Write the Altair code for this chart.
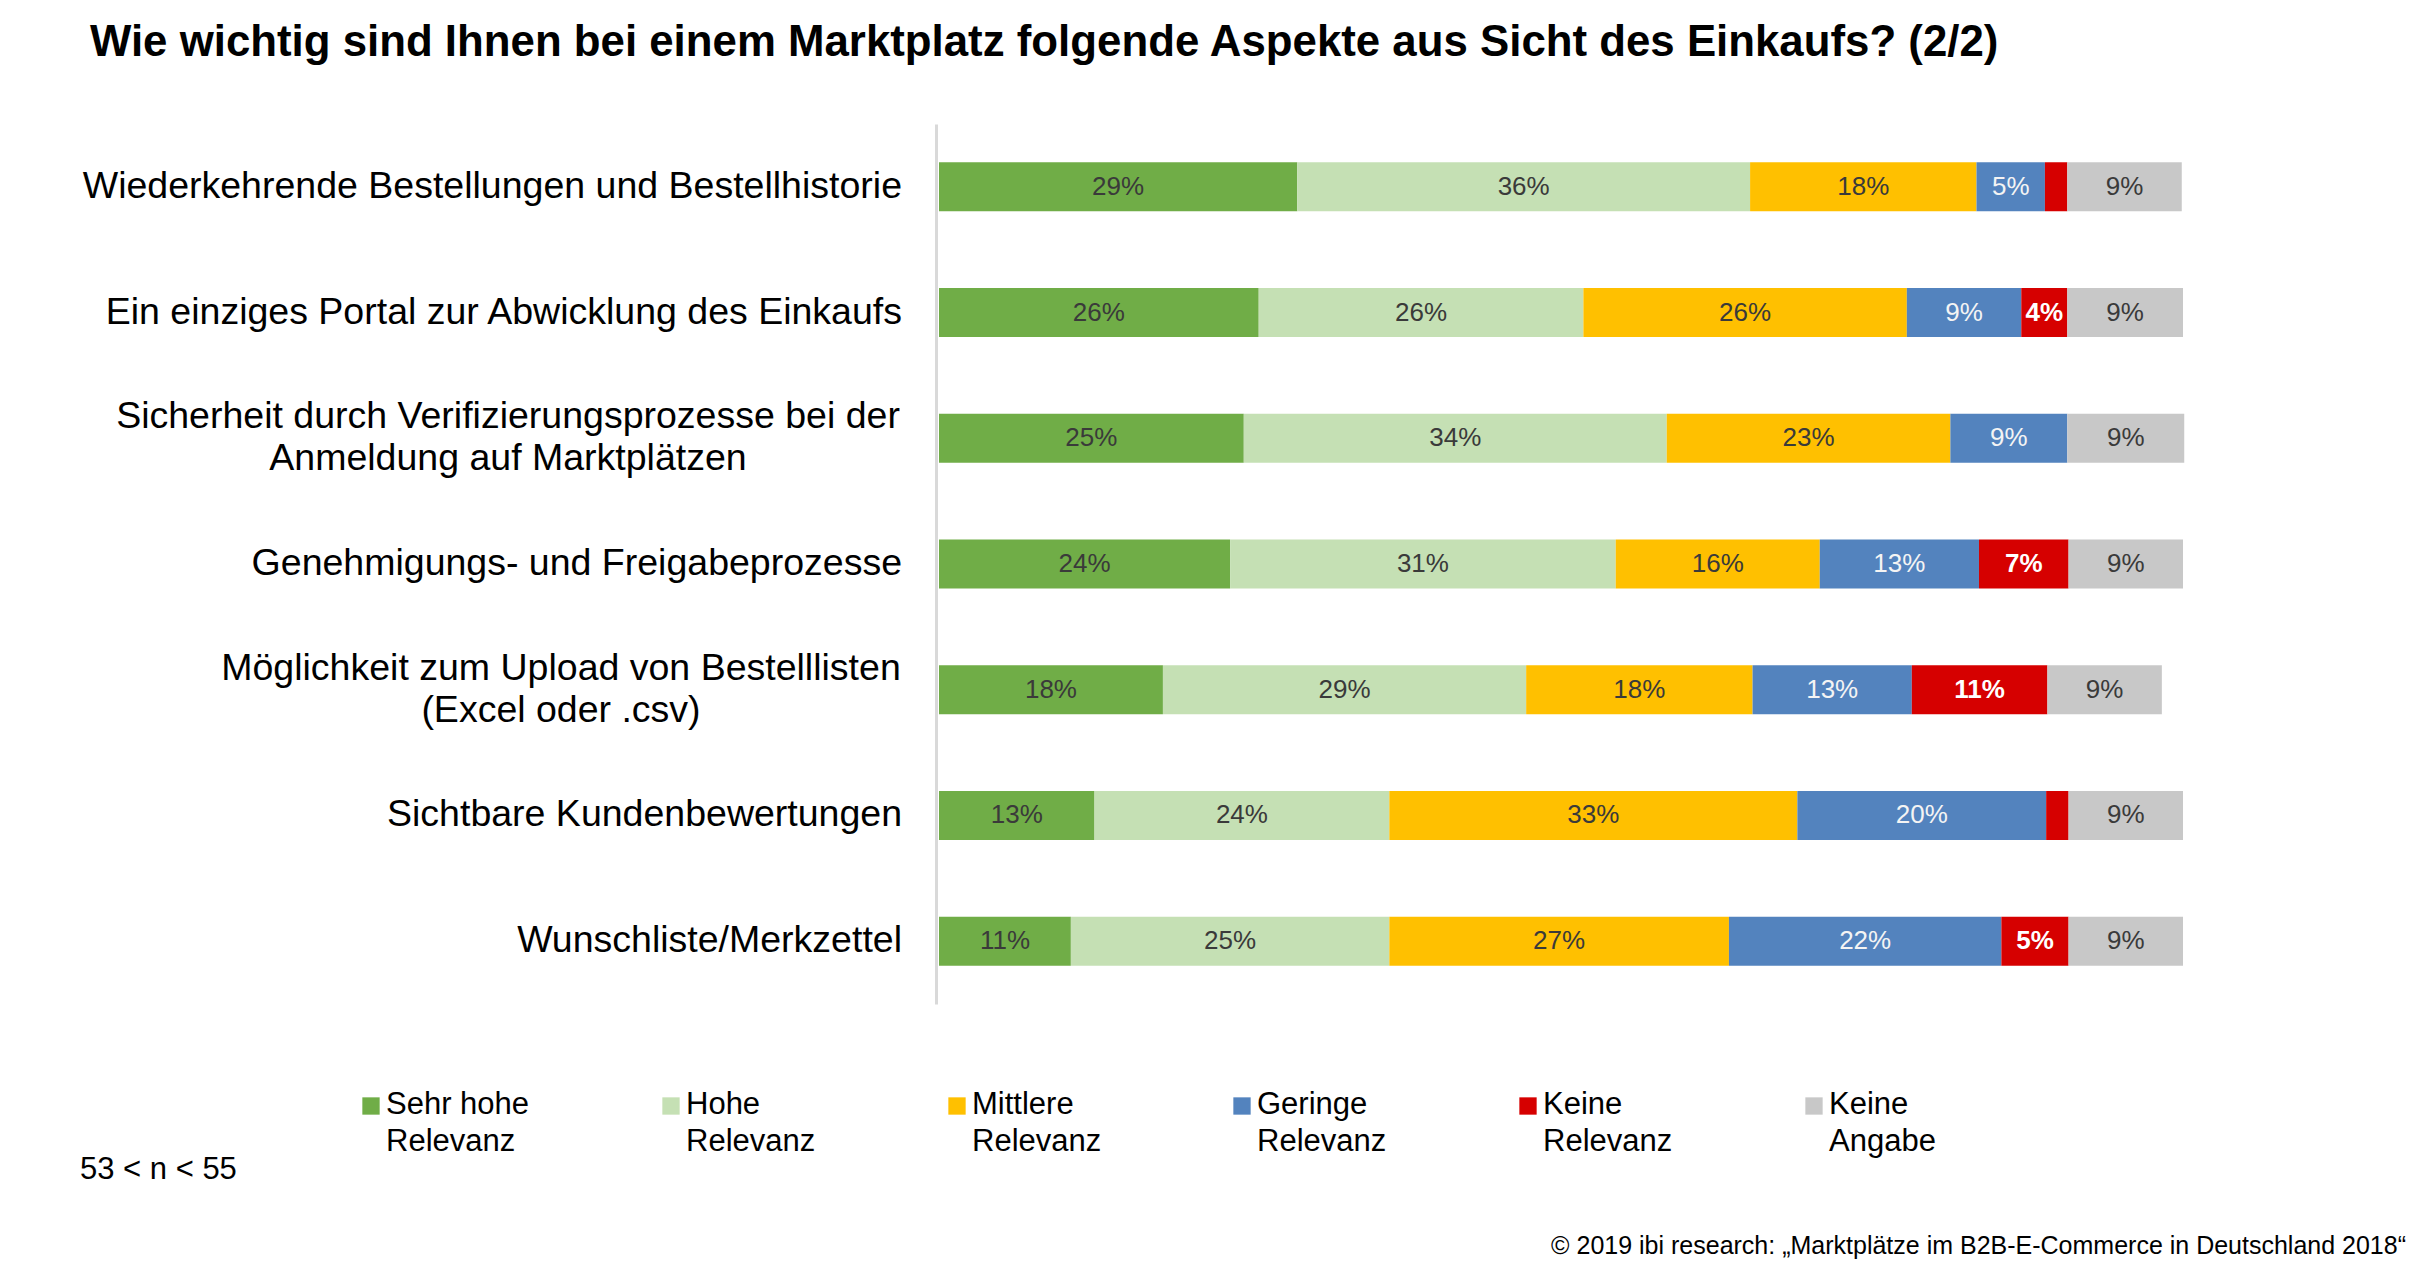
import altair as alt
import pandas as pd

# ---------------- data ----------------
title_text = "Wie wichtig sind Ihnen bei einem Marktplatz folgende Aspekte aus Sicht des Einkaufs? (2/2)"
n_note = "53 < n < 55"
source_text = "© 2019 ibi research: „Marktplätze im B2B-E-Commerce in Deutschland 2018“"

aspects = [
    "Wiederkehrende Bestellungen und Bestellhistorie",
    "Ein einziges Portal zur Abwicklung des Einkaufs",
    "Sicherheit durch Verifizierungsprozesse bei der\nAnmeldung auf Marktplätzen",
    "Genehmigungs- und Freigabeprozesse",
    "Möglichkeit zum Upload von Bestelllisten\n(Excel oder .csv)",
    "Sichtbare Kundenbewertungen",
    "Wunschliste/Merkzettel",
]

series = ["Sehr hohe Relevanz", "Hohe Relevanz", "Mittlere Relevanz",
          "Geringe Relevanz", "Keine Relevanz", "Keine Angabe"]
colors = ["#70AD47", "#C5E0B4", "#FFC000", "#5383BE", "#D60000", "#C8C8C8"]

sehr_hohe = [28.8, 25.7, 24.5, 23.4, 18.0, 12.5, 10.6]
hohe = [36.4, 26.1, 34.0, 31.0, 29.2, 23.7, 25.6]
mittlere = [18.2, 26.0, 22.8, 16.4, 18.2, 32.8, 27.3]
geringe = [5.5, 9.2, 9.4, 12.8, 12.8, 20.0, 21.9]
keine = [1.8, 3.7, 0.0, 7.2, 10.9, 1.8, 5.4]
angabe = [9.2, 9.3, 9.4, 9.2, 9.2, 9.2, 9.2]

lab_sehr_hohe = ["29%", "26%", "25%", "24%", "18%", "13%", "11%"]
lab_hohe = ["36%", "26%", "34%", "31%", "29%", "24%", "25%"]
lab_mittlere = ["18%", "26%", "23%", "16%", "18%", "33%", "27%"]
lab_geringe = ["5%", "9%", "9%", "13%", "13%", "20%", "22%"]
lab_keine = ["", "4%", "", "7%", "11%", "", "5%"]
lab_angabe = ["9%", "9%", "9%", "9%", "9%", "9%", "9%"]

values = [sehr_hohe, hohe, mittlere, geringe, keine, angabe]
labels = [lab_sehr_hohe, lab_hohe, lab_mittlere, lab_geringe, lab_keine, lab_angabe]

rows = []
for i, a in enumerate(aspects):
    for j, s in enumerate(series):
        rows.append({"aspect": a, "series": s, "order": j,
                     "value": values[j][i], "label": labels[j][i]})
df = pd.DataFrame(rows)

# ---------------- layout ----------------
W, H = 1244, 880
FONT = "Liberation Sans"

xscale = alt.Scale(domain=[0, 100], nice=False, zero=True)
yscale = alt.Scale(domain=aspects, paddingInner=0.61, paddingOuter=0.305)

base = alt.Chart(df).transform_stack(
    stack="value", groupby=["aspect"], sort=[alt.SortField("order", order="ascending")],
    as_=["x0", "x1"]
).transform_calculate(mid="(datum.x0 + datum.x1) / 2")

bars = base.mark_bar(strokeWidth=0).encode(
    x=alt.X("x0:Q", scale=xscale, axis=None),
    x2="x1:Q",
    y=alt.Y("aspect:N", scale=yscale, sort=aspects,
            axis=alt.Axis(labels=False, ticks=False, title=None, domain=True,
                          domainColor="#D9D9D9", domainWidth=3, offset=3, grid=False)),
    color=alt.Color("series:N", scale=alt.Scale(domain=series, range=colors), legend=None),
)


def seg_text(series_subset, color, weight):
    return base.transform_filter(
        alt.FieldOneOfPredicate(field="series", oneOf=series_subset)
    ).transform_filter("datum.label != ''").mark_text(
        font=FONT, fontSize=26, fontWeight=weight, color=color,
        align="center", baseline="middle"
    ).encode(
        x=alt.X("mid:Q", scale=xscale),
        y=alt.Y("aspect:N", sort=aspects),
        text="label:N",
    )


txt_dark = seg_text([series[0], series[1], series[2], series[5]], "#3A3A3A", "normal")
txt_blue = seg_text([series[3]], "#F4F4F4", "normal")
txt_red = seg_text([series[4]], "#FFFFFF", "bold")

layers = [bars, txt_dark, txt_blue, txt_red]

# category labels (two-line labels are centred as a block)
block_centre = {aspects[2]: -431, aspects[4]: -378}
for a in aspects:
    d = pd.DataFrame({"aspect": [a]})
    if a in block_centre:
        m = alt.Chart(d).mark_text(font=FONT, fontSize=37.5, color="#000000", align="center",
                                   baseline="middle", lineBreak="\n", lineHeight=42, dy=-21)
        xx = block_centre[a]
    else:
        m = alt.Chart(d).mark_text(font=FONT, fontSize=37.5, color="#000000", align="right",
                                   baseline="middle")
        xx = -37
    layers.append(m.encode(x=alt.value(xx), y=alt.Y("aspect:N", sort=aspects), text="aspect:N"))

# legend
leg_x = [-568, -268, 18, 303, 589, 875]
for s, c, lx in zip(series, colors, leg_x):
    first, last = s.rsplit(" ", 1)
    d = pd.DataFrame({"series": [s], "legtext": [first + "\n" + last]})
    layers.append(alt.Chart(d).mark_square(size=300, opacity=1, color=c).encode(
        x=alt.value(lx), y=alt.value(982)))
    layers.append(alt.Chart(d).mark_text(font=FONT, fontSize=31, color="#000000", align="left",
                                         baseline="middle", lineBreak="\n", lineHeight=37).encode(
        x=alt.value(lx + 15), y=alt.value(981), text="legtext:N"))

# title, sample note, source
layers.append(alt.Chart(pd.DataFrame({"t": [title_text]})).mark_text(
    font=FONT, fontSize=43.8, fontWeight="bold", color="#000000", align="left", baseline="middle"
).encode(x=alt.value(-849), y=alt.value(-81), text="t:N"))

layers.append(alt.Chart(pd.DataFrame({"t": [n_note]})).mark_text(
    font=FONT, fontSize=31, color="#000000", align="left", baseline="middle"
).encode(x=alt.value(-859), y=alt.value(1046), text="t:N"))

layers.append(alt.Chart(pd.DataFrame({"t": [source_text]})).mark_text(
    font=FONT, fontSize=25, color="#000000", align="right", baseline="middle"
).encode(x=alt.value(1467), y=alt.value(1122), text="t:N"))

chart = alt.layer(*layers).properties(
    width=W, height=H,
    padding={"left": 931, "top": 116, "right": 232, "bottom": 258},
    autosize=alt.AutoSizeParams(type="none"),
).configure_view(stroke=None)

chart.save("out.html", embed_options={"renderer": "svg", "actions": False})
